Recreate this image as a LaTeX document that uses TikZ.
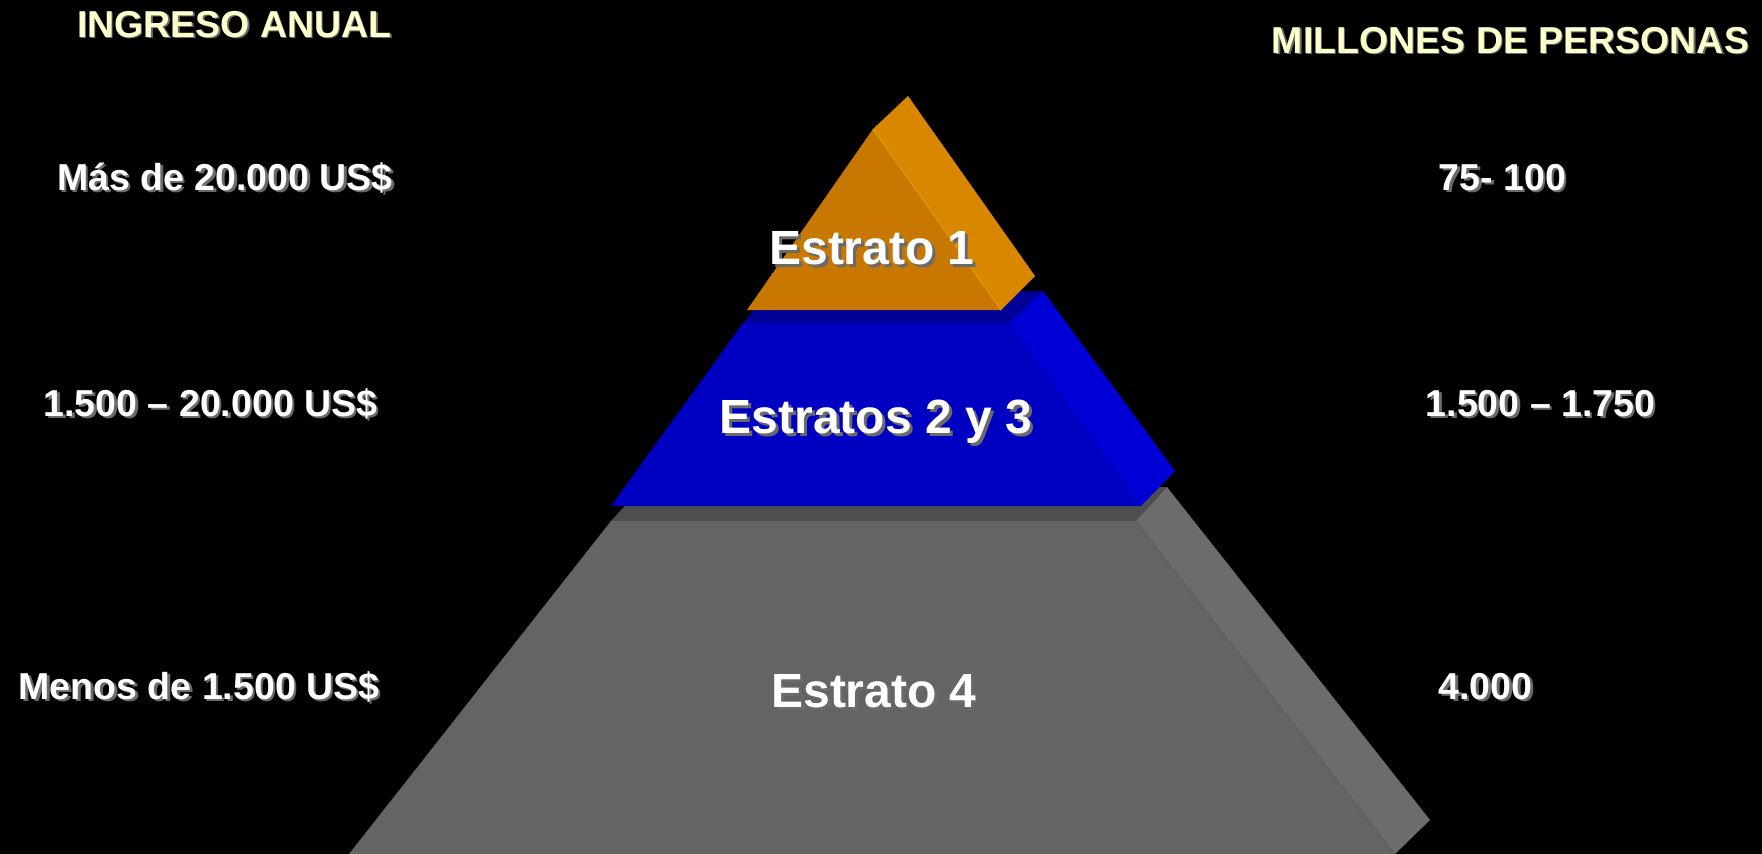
\documentclass[tikz,border=0pt]{standalone}
\usepackage{fontspec}
\setmainfont{Liberation Sans}
\definecolor{headyellow}{HTML}{FFFFCC}
\definecolor{shadowgray}{HTML}{6A6A6A}
\definecolor{orfront}{HTML}{C87800}
\definecolor{orside}{HTML}{D98600}
\definecolor{blfront}{HTML}{0000C2}
\definecolor{blside}{HTML}{0000D6}
\definecolor{bltop}{HTML}{000096}
\definecolor{grfront}{HTML}{646464}
\definecolor{grside}{HTML}{6C6C6C}
\definecolor{grtop}{HTML}{4E4E4E}
\newcommand\shtxt[2][2.5]{\makebox[0pt][l]{\hspace{#1pt}\raisebox{-#1pt}{\color{shadowgray}#2}}#2}
\tikzset{
  sidelbl/.style={font=\fontsize{37.5}{40}\selectfont\bfseries, text=white, inner sep=0pt, anchor=base},
  headlbl/.style={font=\fontsize{37.5}{40}\selectfont\bfseries, text=headyellow, inner sep=0pt, anchor=base},
  mainlbl/.style={font=\fontsize{48}{52}\selectfont\bfseries, text=white, inner sep=0pt, anchor=base},
  face/.style={draw=none}
}
\begin{document}
\begin{tikzpicture}[x=1pt,y=-1pt]
\fill[black] (0,0) rectangle (1762,854);
\useasboundingbox (0,0) rectangle (1762,854);
% gray layer (Estrato 4)
\fill[grtop] (611,521) -- (1136,521) -- (1167,487) -- (642,487) -- cycle;
\fill[grside] (1136,521) -- (1167,487) -- (1430,820) -- (1395,854) -- cycle;
\fill[grfront] (349,854) -- (611,521) -- (1136,521) -- (1395,854) -- cycle;
% blue layer (Estratos 2 y 3)
\fill[bltop] (743,323) -- (1009,323) -- (1043,291) -- (770,291) -- cycle;
\fill[blside] (1009,323) -- (1043,291) -- (1175,471) -- (1141,506) -- cycle;
\fill[blfront] (611,506) -- (743,323) -- (1009,323) -- (1141,506) -- cycle;
% orange layer (Estrato 1)
\fill[orside] (873,129) -- (908,96) -- (1035,276) -- (1001,310) -- cycle;
\fill[orfront] (747,310) -- (873,129) -- (1001,310) -- cycle;
\draw[orside!80!yellow, line width=1pt] (873,129) -- (1001,310);
% headings
\node[headlbl] (hleft) at (234.5,37.7) {\shtxt[1.2]{INGRESO ANUAL}};
\node[headlbl] (hright) at (1510.5,53) {\shtxt[1.2]{MILLONES DE PERSONAS}};
% side labels
\node[sidelbl] (l1) at (225,190) {\shtxt{Más de 20.000 US\$}};
\node[sidelbl] (r1) at (1502.5,190) {\shtxt{75- 100}};
\node[sidelbl] (l2) at (210.5,416) {\shtxt{1.500 – 20.000 US\$}};
\node[sidelbl] (r2) at (1540.5,416) {\shtxt{1.500 – 1.750}};
\node[sidelbl] (l3) at (199,699) {\shtxt{Menos de 1.500 US\$}};
\node[sidelbl] (r3) at (1485.5,699) {\shtxt{4.000}};
% pyramid labels
\node[mainlbl] (e1) at (872,264) {\shtxt[3]{Estrato 1}};
\node[mainlbl] (e23) at (876,433) {\shtxt[3]{Estratos 2 y 3}};
\node[mainlbl] (e4) at (874,707) {\shtxt[3]{Estrato 4}};
\end{tikzpicture}
\end{document}
